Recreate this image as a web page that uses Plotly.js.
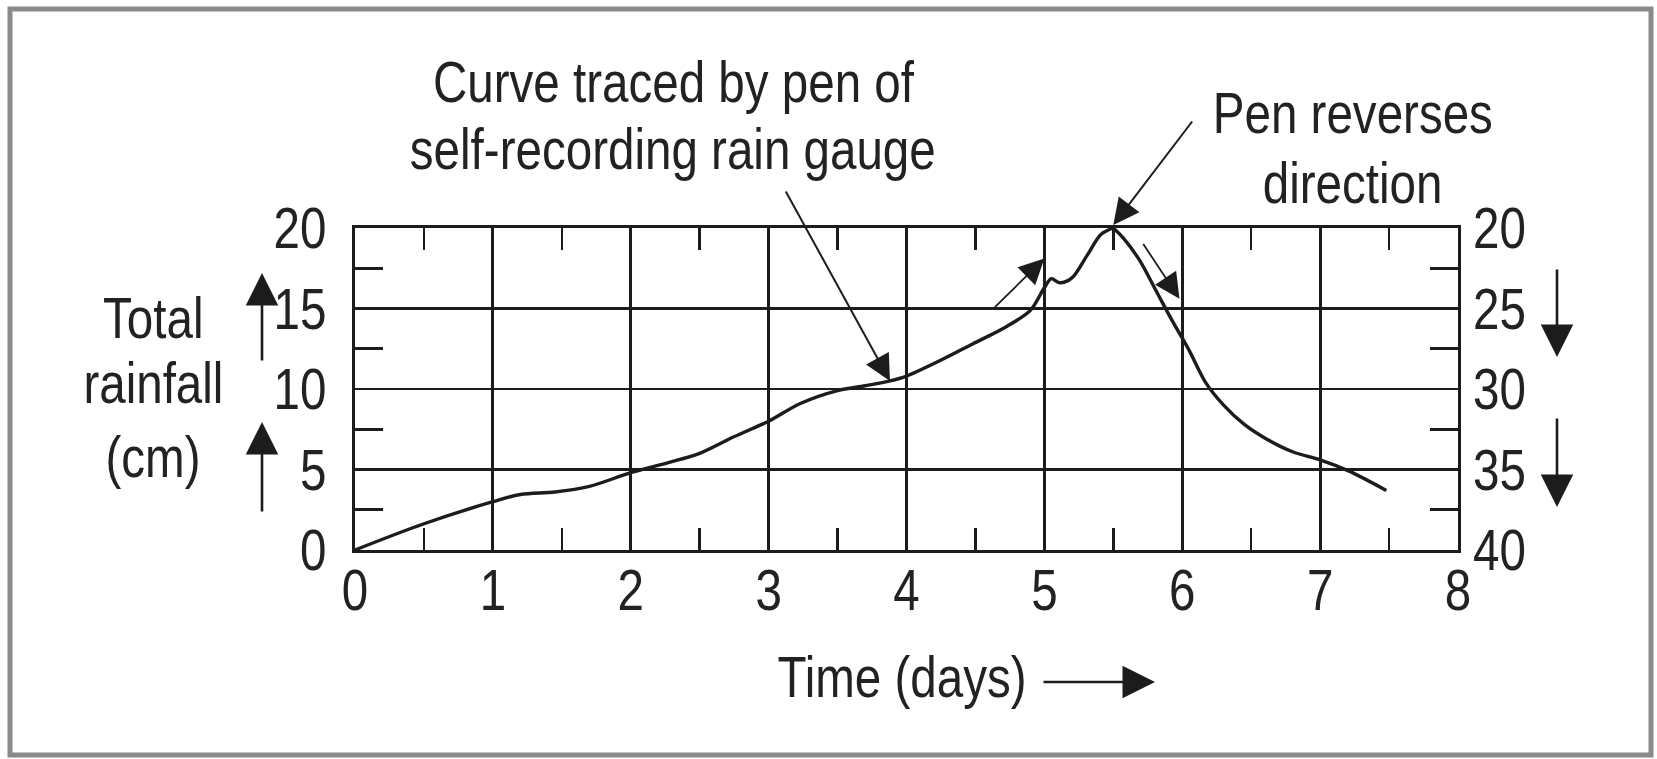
<!DOCTYPE html>
<html>
<head>
<meta charset="utf-8">
<script src="https://cdn.plot.ly/plotly-3.0.1.min.js"></script>
<style>
  html, body { margin: 0; padding: 0; background: #ffffff; }
  #chart { width: 1657px; height: 759px; }
</style>
</head>
<body>
<div id="chart"></div>
<script>
// ---- Data ----
// Rising branch: pen moves upward, read on left scale (0-20 cm)
const risingDays = [0, 0.49, 1.0, 1.2, 1.45, 1.7, 2.0, 2.26, 2.5, 2.74, 3.0, 3.23, 3.5, 3.7, 3.88, 4.0, 4.24, 4.48, 4.73, 4.9, 5.0, 5.05, 5.11, 5.2, 5.31, 5.41, 5.5];
const risingRain = [0, 1.6, 3.0, 3.45, 3.6, 3.95, 4.8, 5.4, 6.0, 7.0, 8.0, 9.1, 9.9, 10.2, 10.5, 10.8, 11.75, 12.8, 13.9, 14.9, 16.3, 16.85, 16.6, 16.9, 18.3, 19.6, 20.0];
// Falling branch: pen reverses, read on right scale (20-40 cm)
const fallingDays = [5.5, 5.57, 5.69, 5.81, 5.93, 6.05, 6.17, 6.3, 6.45, 6.61, 6.8, 7.0, 7.21, 7.48];
const fallingRain = [20.0, 20.6, 22.0, 23.9, 25.8, 27.6, 29.6, 31.0, 32.2, 33.1, 33.9, 34.4, 35.1, 36.3];

const xTickVals = [0, 1, 2, 3, 4, 5, 6, 7, 8];
const leftTickVals = [0, 5, 10, 15, 20];
const rightTickVals = [20, 25, 30, 35, 40];

const noteCurve = ['Curve traced by pen of', 'self-recording rain gauge'];
const noteReverse = ['Pen reverses', 'direction'];
const yTitleLines = ['Total', 'rainfall', '(cm)'];
const xTitle = 'Time (days)';

// ---- Layout geometry ----
const W = 1657, H = 759;
const M = { l: 355, r: 199, t: 228, b: 209 };
const plotW = W - M.l - M.r, plotH = H - M.t - M.b;
const px = x => (x - M.l) / plotW;
const py = y => (H - M.b - y) / plotH;

const FONT = "'Liberation Sans', Arial, Helvetica, sans-serif";
const NARROW = 0.82;   // condensed look of the original lettering
const INK = '#1c1c1c';
const TXT = '#222222';

const traces = [
  {
    x: risingDays, y: risingRain, type: 'scatter', mode: 'lines',
    line: { color: INK, width: 3.4, shape: 'spline', smoothing: 0.9 },
    xaxis: 'x', yaxis: 'y', hoverinfo: 'skip', cliponaxis: false
  },
  {
    x: fallingDays, y: fallingRain, type: 'scatter', mode: 'lines',
    line: { color: INK, width: 3.4, shape: 'spline', smoothing: 0.9 },
    xaxis: 'x', yaxis: 'y2', hoverinfo: 'skip', cliponaxis: false
  }
];

function textNote(t, x, y, size) {
  return { text: t, xref: 'paper', yref: 'paper', x: px(x), y: py(y),
           xanchor: 'center', yanchor: 'middle', showarrow: false,
           font: { family: FONT, size: size || 58, color: TXT } };
}
function pxArrow(tipX, tipY, tailX, tailY, w, s) {
  return { text: '', xref: 'paper', yref: 'paper', x: px(tipX), y: py(tipY),
           ax: tailX - tipX, ay: tailY - tipY, showarrow: true,
           arrowhead: 2, arrowsize: s || 2.5, arrowwidth: w || 2.6, arrowcolor: INK, standoff: 0 };
}

const annotations = [
  textNote(noteCurve[0], 674, 82),
  textNote(noteCurve[1], 673, 148),
  textNote(noteReverse[0], 1353, 113),
  textNote(noteReverse[1], 1352, 182),
  textNote(yTitleLines[0], 153, 317),
  textNote(yTitleLines[1], 153, 382),
  textNote(yTitleLines[2], 153, 456),
  textNote(xTitle, 902, 676),
  // axis direction arrows
  pxArrow(262, 273, 262, 362),
  pxArrow(262, 422, 262, 513),
  pxArrow(1557, 357, 1557, 268),
  pxArrow(1557, 507, 1557, 417),
  pxArrow(1155, 682, 1042, 682),
  // pointer to curve
  { text: '', xref: 'x', yref: 'y', x: 3.88, y: 10.5, ax: -105, ay: -191,
    showarrow: true, arrowhead: 2, arrowsize: 2.6, arrowwidth: 2, arrowcolor: INK, standoff: 0 },
  // pointer to reversal point
  { text: '', xref: 'paper', yref: 'paper', x: 5.5 / 8, y: py(225), ax: 80, ay: -105,
    showarrow: true, arrowhead: 2, arrowsize: 2.6, arrowwidth: 2, arrowcolor: INK, standoff: 0 },
  // pen direction arrows along the curve
  { text: '', xref: 'x', yref: 'y', axref: 'x', ayref: 'y', x: 5.0, y: 18.1, ax: 4.63, ay: 15.0,
    showarrow: true, arrowhead: 2, arrowsize: 2.8, arrowwidth: 1.8, arrowcolor: INK, standoff: 0 },
  { text: '', xref: 'x', yref: 'y', axref: 'x', ayref: 'y', x: 5.98, y: 15.6, ax: 5.71, ay: 19.1,
    showarrow: true, arrowhead: 2, arrowsize: 2.8, arrowwidth: 1.8, arrowcolor: INK, standoff: 0 }
];

const shapes = [
  { type: 'rect', xref: 'paper', yref: 'paper', x0: px(10), x1: px(1651), y0: py(755), y1: py(9),
    line: { color: '#8a8a8a', width: 5 }, fillcolor: 'rgba(0,0,0,0)', layer: 'above' }
];

const tickFont = { family: FONT, size: 58, color: TXT };

const layout = {
  width: W, height: H,
  margin: M,
  paper_bgcolor: '#ffffff', plot_bgcolor: '#ffffff',
  showlegend: false,
  xaxis: {
    range: [0, 8], tickvals: xTickVals, ticktext: xTickVals.map(String),
    showgrid: true, gridcolor: INK, gridwidth: 2.8, zeroline: false,
    showline: true, linecolor: INK, linewidth: 3, mirror: 'ticks',
    ticks: 'inside', ticklen: 0, tickcolor: INK,
    minor: { dtick: 0.5, tick0: 0, ticks: 'inside', ticklen: 22, tickwidth: 2.6, tickcolor: INK, showgrid: false },
    tickfont: tickFont, ticklabelstandoff: -13, fixedrange: true
  },
  yaxis: {
    range: [0, 20], tickvals: leftTickVals, ticktext: leftTickVals.map(String),
    showgrid: true, gridcolor: INK, gridwidth: 2.8, zeroline: false,
    showline: true, linecolor: INK, linewidth: 3, mirror: true,
    ticks: 'inside', ticklen: 0, tickcolor: INK,
    minor: { dtick: 2.5, tick0: 0, ticks: 'inside', ticklen: 28, tickwidth: 2.6, tickcolor: INK, showgrid: false },
    tickfont: tickFont, ticklabelstandoff: 14, fixedrange: true
  },
  yaxis2: {
    overlaying: 'y', side: 'right', anchor: 'x',
    range: [40, 20], tickvals: rightTickVals, ticktext: rightTickVals.map(String),
    showgrid: false, zeroline: false, showline: false,
    ticks: 'inside', ticklen: 0, tickcolor: INK,
    minor: { dtick: 2.5, tick0: 20, ticks: 'inside', ticklen: 28, tickwidth: 2.6, tickcolor: INK, showgrid: false },
    tickfont: tickFont, ticklabelstandoff: 14, fixedrange: true
  },
  annotations: annotations,
  shapes: shapes
};

// Condense every text horizontally around its anchor point, like the narrow original lettering
function condenseText() {
  document.querySelectorAll('#chart svg text').forEach(t => {
    if (!t.textContent) return;
    const bb = t.getBBox();
    const anchor = t.getAttribute('text-anchor') || 'start';
    const cx = anchor === 'middle' ? bb.x + bb.width / 2 : (anchor === 'end' ? bb.x + bb.width : bb.x);
    const prev = t.getAttribute('transform') || '';
    t.setAttribute('transform', prev + ' translate(' + cx + ',0) scale(' + NARROW + ',1) translate(' + (-cx) + ',0)');
  });
}

Plotly.newPlot('chart', traces, layout, { staticPlot: true, displayModeBar: false }).then(condenseText);
</script>
</body>
</html>
